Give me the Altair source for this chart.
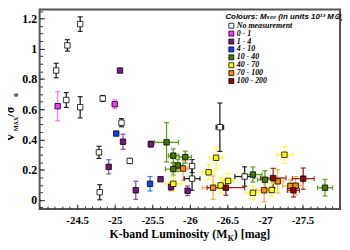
import altair as alt
import pandas as pd

categories = ["No measurement", "0 - 1", "1 - 4", "4 - 10", "10 - 40", "40 - 70", "70 - 100", "100 - 200"]
fill_colors = ["#ffffff", "#ff33ff", "#7b1585", "#1040ff", "#3f7f00", "#ffff00", "#ff8c00", "#990000"]
err_colors = ["#222222", "#ff77ff", "#8a4fb0", "#3a7aff", "#5f9f20", "#ffff30", "#ffaa50", "#a02020"]

lum = [-24.22, -24.37, -24.54, -24.355, -24.54, -24.84, -25.09, -24.79, -25.20, -24.80, -26.40, -26.03, -26.03, -26.73,
       -24.24, -25.00,
       -25.07, -25.11, -24.92, -25.28, -25.48, -25.61, -25.75, -25.97,
       -25.02, -25.47,
       -25.69, -25.78, -25.94, -25.84, -25.78, -26.84, -27.00, -27.80,
       -25.78, -26.35, -26.25, -26.51, -26.41, -26.84, -27.09, -27.26,
       -25.91, -26.31, -26.99, -27.17, -27.34, -27.41,
       -26.48, -27.11, -27.51, -27.38]
vmax_sigma = [0.856, 1.022, 1.163, 0.661, 0.613, 0.671, 0.511, 0.315, 0.258, 0.051, 0.481, 0.141, 0.224, 0.155,
              0.620, 0.633,
              0.856, 0.385, 0.219, 0.064, 0.369, 0.137, 0.086, 0.061,
              0.439, 0.107,
              0.381, 0.293, 0.283, 0.228, 0.204, 0.168, 0.134, 0.081,
              0.107, 0.279, 0.183, 0.126, 0.096, 0.047, 0.066, 0.299,
              0.208, 0.081, 0.064, 0.123, 0.093, 0.094,
              0.081, 0.145, 0.141, 0.064]
lum_err = [0, 0, 0, 0, 0, 0, 0, 0, 0, 0, 0.05, 0.105, 0, 0.13,
           0, 0,
           0, 0, 0, 0, 0, 0, 0, 0,
           0, 0,
           0.16, 0.066, 0.08, 0.066, 0.105, 0.12, 0.10, 0.10,
           0.105, 0.09, 0.08, 0.08, 0.08, 0.09, 0.09, 0.105,
           0.066, 0.145, 0.105, 0.08, 0.105, 0.105,
           0.25, 0.17, 0.145, 0.08]
vmax_err = [0.048, 0.038, 0.048, 0.049, 0.07, 0.02, 0.027, 0.04, 0.016, 0.05, 0.16, 0.077, 0.043, 0.064,
            0.096, 0.03,
            0.01, 0.05, 0.047, 0.06, 0.02, 0, 0.025, 0.032,
            0, 0.048,
            0.13, 0.045, 0.04, 0.04, 0.04, 0.05, 0.06, 0.055,
            0.05, 0.07, 0.05, 0.05, 0.05, 0.045, 0.045, 0.058,
            0.077, 0.077, 0.077, 0.077, 0.04, 0.06,
            0.05, 0.064, 0.07, 0.045]
mass_bin = (["No measurement"] * 14 + ["0 - 1"] * 2 + ["1 - 4"] * 8 + ["4 - 10"] * 2 +
            ["10 - 40"] * 8 + ["40 - 70"] * 8 + ["70 - 100"] * 6 + ["100 - 200"] * 4)

x_major = [-24.5, -25, -25.5, -26, -26.5, -27, -27.5]
x_minor = [round(-24 - 0.1 * i, 1) for i in range(41)]
y_major = [0, 0.2, 0.4, 0.6, 0.8, 1, 1.2]
y_minor = [round(-0.05 + 0.05 * i, 2) for i in range(27)]

df = pd.DataFrame({"l": lum, "v": vmax_sigma, "el": lum_err, "ev": vmax_err, "bin": mass_bin})
leg_df = pd.DataFrame({"bin": categories})

W, H = 304, 202
xs = alt.Scale(domain=[-28, -24], reverse=True, nice=False, zero=False)
ys = alt.Scale(domain=[-0.06, 1.26], nice=False, zero=False)
err_scale = alt.Scale(domain=categories, range=err_colors)
fill_scale = alt.Scale(domain=categories, range=fill_colors)
leg_y = alt.Scale(type="point", domain=categories, range=[16.5, 72.5], padding=0)

SERIF = "Liberation Serif"
SANS = "Liberation Sans"
TICK = "#333333"

ax_x_main = alt.Axis(orient="bottom", values=x_major, labelExpr="'' + datum.value", ticks=False, tickSize=0,
                     domain=False, grid=False, title=None, labelFont=SERIF, labelFontWeight="bold",
                     labelFontSize=11, labelColor="black", labelPadding=6)
ax_y_main = alt.Axis(orient="left", values=y_major, format="~g", ticks=False, tickSize=0,
                     domain=False, grid=False, title=None, labelFont=SERIF, labelFontWeight="bold",
                     labelFontSize=12, labelColor="black", labelPadding=3)
ax_x_maj = alt.Axis(orient="bottom", values=x_major, labels=False, domain=False, grid=False, ticks=True,
                    tickSize=5, offset=-5, tickColor=TICK, tickWidth=1, title=None)
ax_y_maj = alt.Axis(orient="left", values=y_major, labels=False, domain=False, grid=False, ticks=True,
                    tickSize=5, offset=-5, tickColor=TICK, tickWidth=1, title=None)
ax_x_min = alt.Axis(orient="bottom", values=x_minor, labels=False, domain=False, grid=False, ticks=True,
                    tickSize=3, offset=-3, tickColor=TICK, tickWidth=1, title=None)
ax_y_min = alt.Axis(orient="left", values=y_minor, labels=False, domain=False, grid=False, ticks=True,
                    tickSize=3, offset=-3, tickColor=TICK, tickWidth=1, title=None)

base = alt.Chart(df).transform_calculate(
    ylo="datum.v - datum.ev", yhi="datum.v + datum.ev",
    xlo="datum.l - datum.el", xhi="datum.l + datum.el")
ecol = alt.Stroke("bin:N", scale=err_scale, legend=None)

ybase = base.transform_filter("datum.ev > 0")
xbase = base.transform_filter("datum.el > 0")

yerr = ybase.mark_rule(strokeWidth=1.3).encode(
    x=alt.X("l:Q", scale=xs, axis=ax_x_main), y=alt.Y("ylo:Q", scale=ys, axis=ax_y_main), y2="yhi:Q", stroke=ecol)
ycap_lo = ybase.mark_rule(strokeWidth=1.2, xOffset=-2.5, x2Offset=2.5).encode(
    x=alt.X("l:Q", scale=xs, axis=ax_x_maj), x2="l:Q", y=alt.Y("ylo:Q", scale=ys, axis=ax_y_maj), stroke=ecol)
ycap_hi = ybase.mark_rule(strokeWidth=1.2, xOffset=-2.5, x2Offset=2.5).encode(
    x=alt.X("l:Q", scale=xs, axis=ax_x_min), x2="l:Q", y=alt.Y("yhi:Q", scale=ys, axis=ax_y_min), stroke=ecol)
xerr = xbase.mark_rule(strokeWidth=1.3).encode(
    x=alt.X("xlo:Q", scale=xs, axis=None), x2="xhi:Q", y=alt.Y("v:Q", scale=ys, axis=None), stroke=ecol)
xcap_lo = xbase.mark_rule(strokeWidth=1.2, yOffset=-2.5, y2Offset=2.5).encode(
    x=alt.X("xlo:Q", scale=xs, axis=None), y=alt.Y("v:Q", scale=ys, axis=None), y2="v:Q", stroke=ecol)
xcap_hi = xbase.mark_rule(strokeWidth=1.2, yOffset=-2.5, y2Offset=2.5).encode(
    x=alt.X("xhi:Q", scale=xs, axis=None), y=alt.Y("v:Q", scale=ys, axis=None), y2="v:Q", stroke=ecol)

pts = base.mark_square(size=30, stroke="black", strokeWidth=0.8, opacity=1, filled=True).encode(
    x=alt.X("l:Q", scale=xs, axis=None), y=alt.Y("v:Q", scale=ys, axis=None),
    color=alt.Color("bin:N", scale=fill_scale, legend=None))

# legend built from the category list
leg_sym = alt.Chart(leg_df).mark_square(size=25, stroke="black", strokeWidth=0.8, opacity=1, filled=True).encode(
    x=alt.value(194), y=alt.Y("bin:N", scale=leg_y, axis=None),
    color=alt.Color("bin:N", scale=fill_scale, legend=None))
leg_txt = alt.Chart(leg_df).mark_text(font=SERIF, fontSize=8, fontWeight="bold", fontStyle="italic",
                                      align="left", baseline="middle", color="black").encode(
    x=alt.value(199.5), y=alt.Y("bin:N", scale=leg_y, axis=None), text="bin:N")


def txt(s, x, y, size, font=SERIF, style="normal", angle=0, align="left", baseline="alphabetic"):
    return alt.Chart(pd.DataFrame({"t": [s]})).mark_text(
        font=font, fontSize=size, fontWeight="bold", fontStyle=style,
        align=align, baseline=baseline, color="black").encode(
        text="t:N", x=alt.value(x), y=alt.value(y), angle=alt.value(angle))


texts = [
    txt("Colours: M\u2085\u2080\u2080 (in units 10\u00b9\u00b3 M\u2299)", 188, 7.5, 8, font=SANS, style="italic",
        baseline="middle"),
    txt("K-band Luminosity (M", 190, 231.5, 12, align="right"),
    txt("K", 190.3, 234, 8),
    txt(") [mag]", 196.5, 231.5, 12),
    txt("V", -25.5, 134, 12, angle=270),
    txt("MAX", -22, 123, 6, angle=270),
    txt("/\u03c3", -25.5, 108.5, 12, angle=270),
    txt("0", -22, 88.5, 7, angle=270),
]

chart = alt.layer(yerr, ycap_lo, ycap_hi, xerr, xcap_lo, xcap_hi, pts, leg_sym, leg_txt, *texts).resolve_axis(
    x="independent", y="independent").resolve_scale(y="independent").properties(
    width=W, height=H, autosize=alt.AutoSizeParams(type="none"),
    padding={"left": 32, "top": 0, "right": 2, "bottom": 38}).configure_view(
    stroke="#555555", strokeWidth=2)

chart.save("out.html", embed_options={"renderer": "svg", "actions": False})
